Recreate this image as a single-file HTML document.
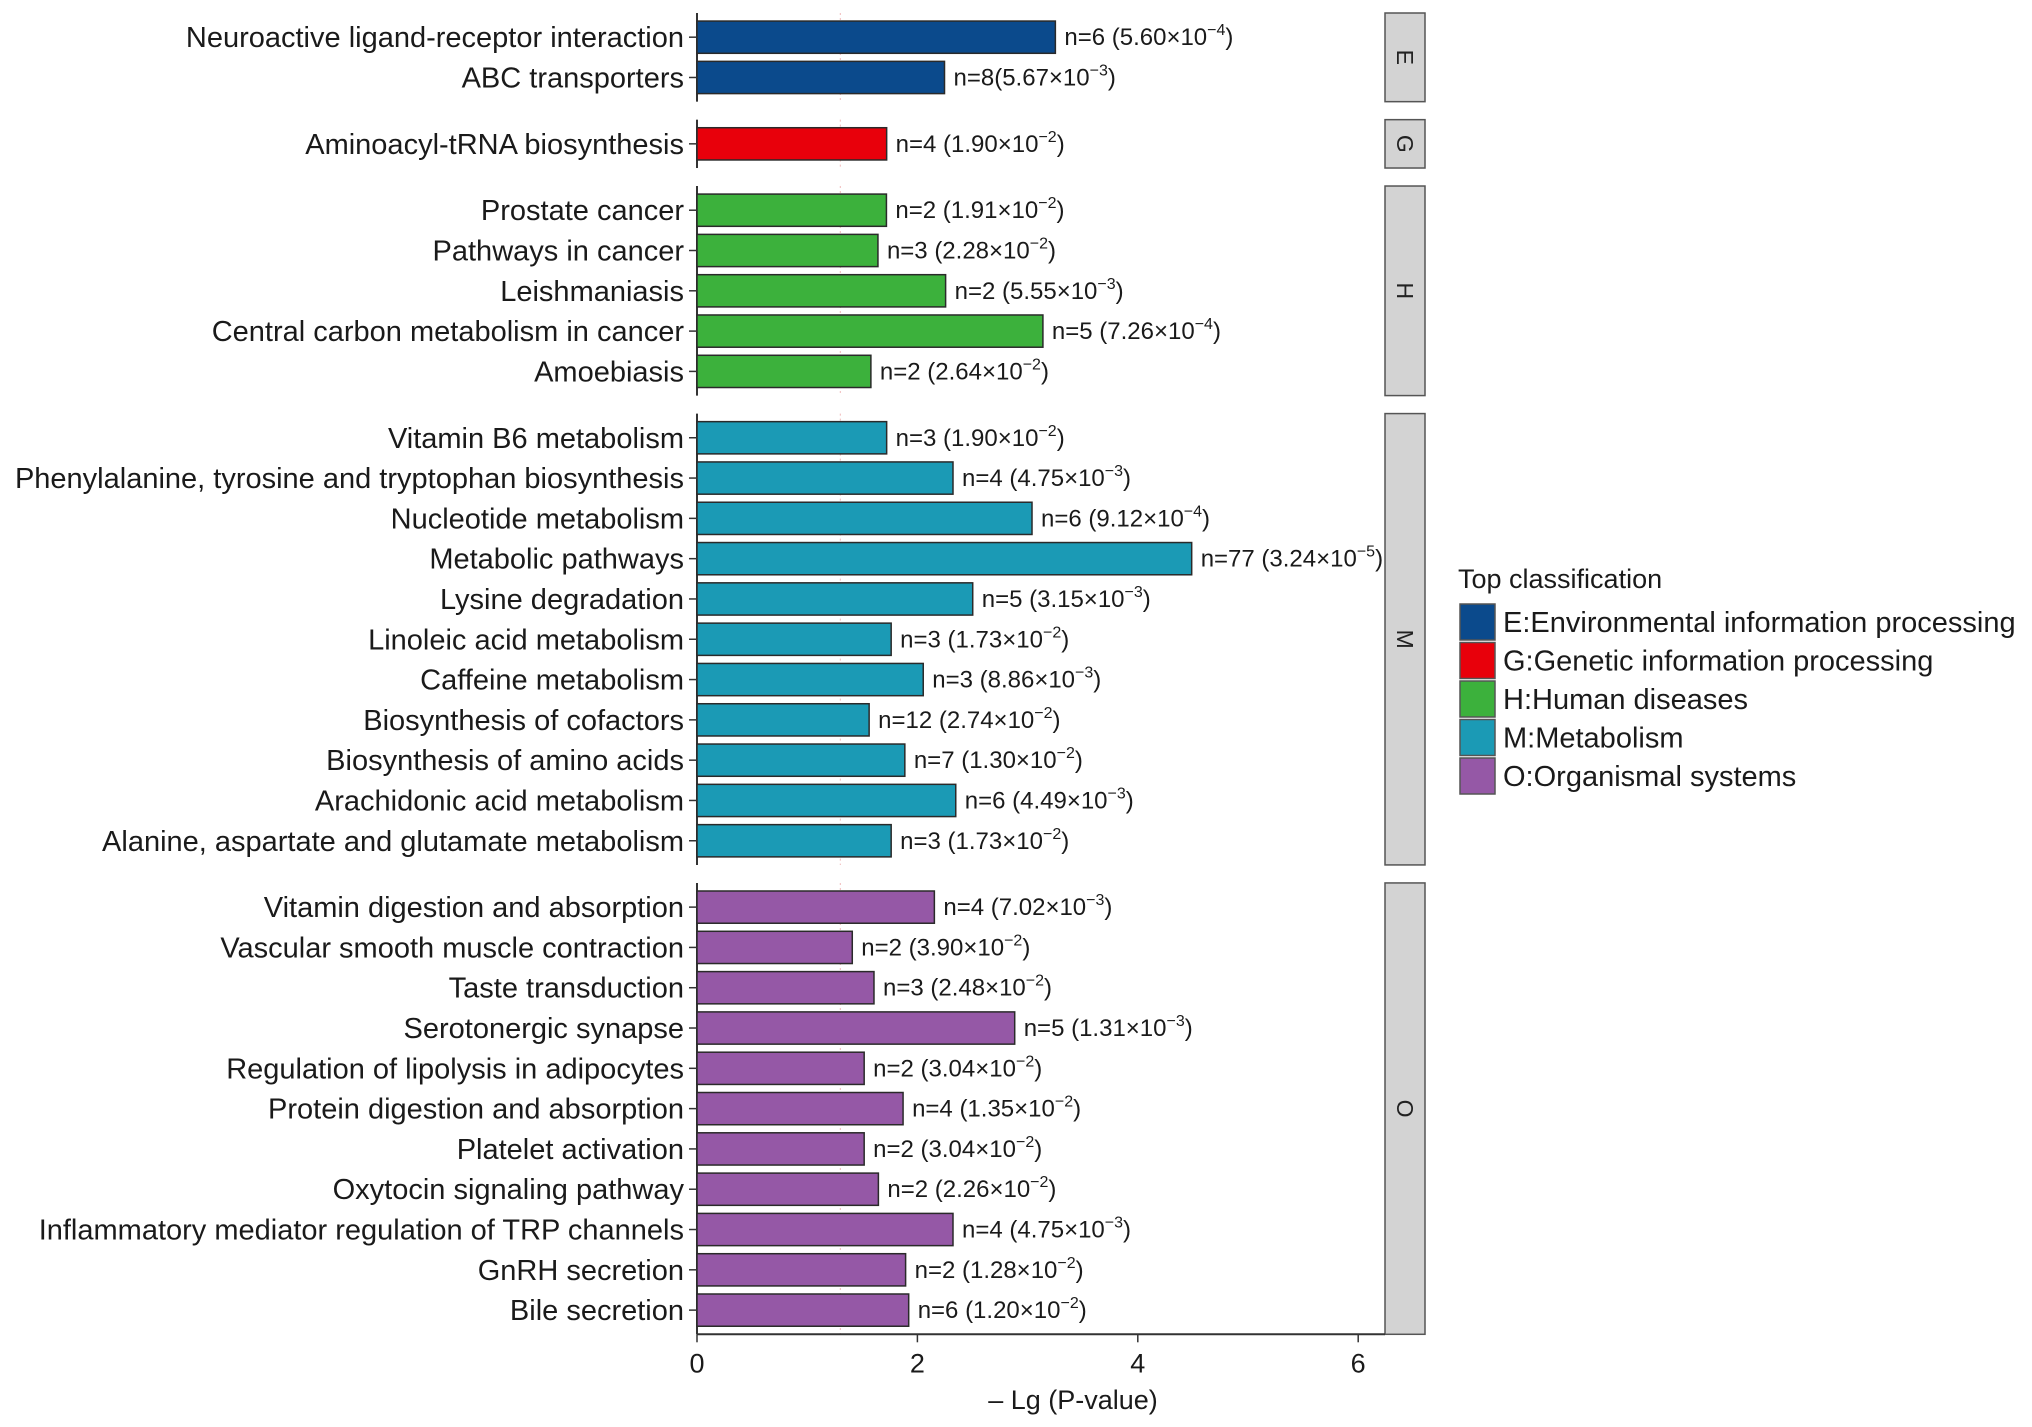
<!DOCTYPE html>
<html><head><meta charset="utf-8"><style>
html,body{margin:0;padding:0;background:#fff;}
svg{display:block;font-family:"Liberation Sans",Arial,sans-serif;}
</style></head><body>
<svg id="chart" width="2032" height="1427" viewBox="0 0 2032 1427" xmlns="http://www.w3.org/2000/svg"></svg>
<script>
const groups = ["E","G","H","M","O"];
const groupColors = ["#0b4a8c","#e8000b","#3cb13c","#1b9ab5","#9558a6"];
const legendLabels = ["E:Environmental information processing","G:Genetic information processing","H:Human diseases","M:Metabolism","O:Organismal systems"];
const categories = [
 ["Neuroactive ligand-receptor interaction","ABC transporters"],
 ["Aminoacyl-tRNA biosynthesis"],
 ["Prostate cancer","Pathways in cancer","Leishmaniasis","Central carbon metabolism in cancer","Amoebiasis"],
 ["Vitamin B6 metabolism","Phenylalanine, tyrosine and tryptophan biosynthesis","Nucleotide metabolism","Metabolic pathways","Lysine degradation","Linoleic acid metabolism","Caffeine metabolism","Biosynthesis of cofactors","Biosynthesis of amino acids","Arachidonic acid metabolism","Alanine, aspartate and glutamate metabolism"],
 ["Vitamin digestion and absorption","Vascular smooth muscle contraction","Taste transduction","Serotonergic synapse","Regulation of lipolysis in adipocytes","Protein digestion and absorption","Platelet activation","Oxytocin signaling pathway","Inflammatory mediator regulation of TRP channels","GnRH secretion","Bile secretion"]
];
const values = [
 [3.252,2.246],
 [1.721],
 [1.719,1.642,2.256,3.139,1.578],
 [1.721,2.323,3.040,4.489,2.502,1.762,2.053,1.562,1.886,2.348,1.762],
 [2.154,1.409,1.606,2.883,1.517,1.870,1.517,1.646,2.323,1.893,1.921]
];
const counts = [
 ["6","8"],["4"],["2","3","2","5","2"],
 ["3","4","6","77","5","3","3","12","7","6","3"],
 ["4","2","3","5","2","4","2","2","4","2","6"]
];
const pMant = [
 ["5.60","5.67"],["1.90"],["1.91","2.28","5.55","7.26","2.64"],
 ["1.90","4.75","9.12","3.24","3.15","1.73","8.86","2.74","1.30","4.49","1.73"],
 ["7.02","3.90","2.48","1.31","3.04","1.35","3.04","2.26","4.75","1.28","1.20"]
];
const pExp = [
 ["−4","−3"],["−2"],["−2","−2","−3","−4","−2"],
 ["−2","−3","−4","−5","−3","−2","−3","−2","−2","−3","−2"],
 ["−3","−2","−2","−3","−2","−2","−2","−2","−3","−2","−2"]
];
const xTicks = [0,2,4,6];
const cutoff = 1.301;

const svg = document.getElementById('chart');
const NS = "http://www.w3.org/2000/svg";
function mk(tag, attrs, parent){
  const e = document.createElementNS(NS, tag);
  for (const k in attrs) e.setAttribute(k, attrs[k]);
  (parent||svg).appendChild(e);
  return e;
}
const X0 = 697, XUNIT = 110.2, PR = 1385, TOP0 = 13, UNIT = 40.3, GAP = 18;
const xs = v => X0 + v*XUNIT;
let curTop = TOP0;
const panels = [];
groups.forEach((g,gi)=>{
  const n = categories[gi].length;
  const h = (n - 1 + 1.2)*UNIT;
  panels.push({top: curTop, h: h});
  curTop += h + GAP;
});
const rowY = (gi,i) => panels[gi].top + (0.6 + i)*UNIT;
const BOTTOM = panels[panels.length-1].top + panels[panels.length-1].h;

groups.forEach((g,gi)=>{
  const p = panels[gi];
  const cl = mk('line',{x1:xs(cutoff),x2:xs(cutoff),y1:p.top,y2:p.top+p.h,stroke:'#f3c4c4','stroke-width':1.2,'stroke-dasharray':'2,3'});
  
  
  const ya = mk('line',{x1:X0,x2:X0,y1:p.top,y2:p.top+p.h,stroke:'#333','stroke-width':2});
  
  
  const st = mk('rect',{x:PR,y:p.top,width:40,height:p.h,fill:'#d3d3d3',stroke:'#555','stroke-width':1.5});
  
  
  const stt = mk('text',{x:0,y:0,'font-size':23,fill:'#222','text-anchor':'middle',transform:`translate(${PR+20},${p.top+p.h/2}) rotate(90)`,'dominant-baseline':'central'});
  stt.textContent = g;
  
  
  categories[gi].forEach((c,i)=>{
    const cy = rowY(gi,i);
    const v = values[gi][i];
    const b = mk('rect',{x:X0,y:cy-0.4*UNIT,width:xs(v)-X0,height:0.8*UNIT,fill:groupColors[gi],stroke:'#2a2a2a','stroke-width':1.5});
    
    
    const tk = mk('line',{x1:X0-8,x2:X0,y1:cy,y2:cy,stroke:'#333','stroke-width':1.5});
    
    
    const lt = mk('text',{x:X0-13,y:cy+10,'font-size':29,fill:'#1a1a1a','text-anchor':'end'});
    lt.textContent = c;
    
    
    const vt = mk('text',{x:xs(v)+9,y:cy+8,'font-size':24,fill:'#1a1a1a'});
    
    
    const sep = (gi===0 && i===1) ? '' : ' ';
    const t1 = mk('tspan',{},vt); t1.textContent = 'n='+counts[gi][i]+sep+'('+pMant[gi][i]+'×10';
    const t2 = mk('tspan',{dy:-10,'font-size':16},vt); t2.textContent = pExp[gi][i];
    const t3 = mk('tspan',{dy:10},vt); t3.textContent = ')';
  });
});
const xa = mk('line',{x1:X0,x2:PR,y1:BOTTOM,y2:BOTTOM,stroke:'#333','stroke-width':2});


xTicks.forEach(t=>{
  const l = mk('line',{x1:xs(t),x2:xs(t),y1:BOTTOM,y2:BOTTOM+8,stroke:'#333','stroke-width':1.5});
  
  
  const tx = mk('text',{x:xs(t),y:BOTTOM+38,'font-size':27,fill:'#1a1a1a','text-anchor':'middle'});
  tx.textContent = t;
  
  
});
const xt = mk('text',{x:1073,y:1409,'font-size':27,fill:'#1a1a1a','text-anchor':'middle'});
xt.textContent = '– Lg (P-value)';


const lgt = mk('text',{x:1458,y:588,'font-size':27,fill:'#1a1a1a'});
lgt.textContent = 'Top classification';


legendLabels.forEach((s,i)=>{
  const y = 604 + i*38.5;
  const r = mk('rect',{x:1460,y:y,width:35,height:36,fill:groupColors[i],stroke:'#555','stroke-width':1.5});
  
  
  const t = mk('text',{x:1503,y:y+28,'font-size':29,fill:'#1a1a1a'});
  t.textContent = s;
  
  
});
</script>
</body></html>
